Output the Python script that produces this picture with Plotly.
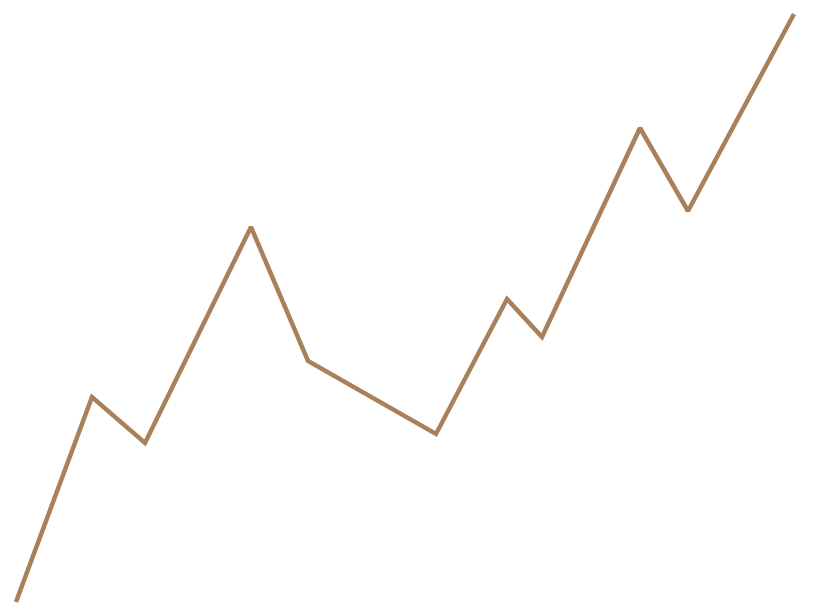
import plotly.graph_objects as go

x_values = [0, 76, 129, 235, 292, 420, 491, 526, 624, 672, 778]
y_values = [2, 207, 161, 377, 243, 170, 305, 267, 476, 393, 590]

fig = go.Figure()
fig.add_trace(go.Scatter(
    x=x_values, y=y_values, mode="lines",
    line=dict(color="#A9805A", width=4.5),
    hoverinfo="skip",
))
fig.update_layout(
    width=816, height=604,
    margin=dict(l=0, r=0, t=0, b=0),
    paper_bgcolor="white", plot_bgcolor="white",
    showlegend=False,
    xaxis=dict(range=[-8, 808], visible=False, fixedrange=True),
    yaxis=dict(range=[-8, 596], visible=False, fixedrange=True),
)
fig.write_html("out.html", config={"displayModeBar": False})
